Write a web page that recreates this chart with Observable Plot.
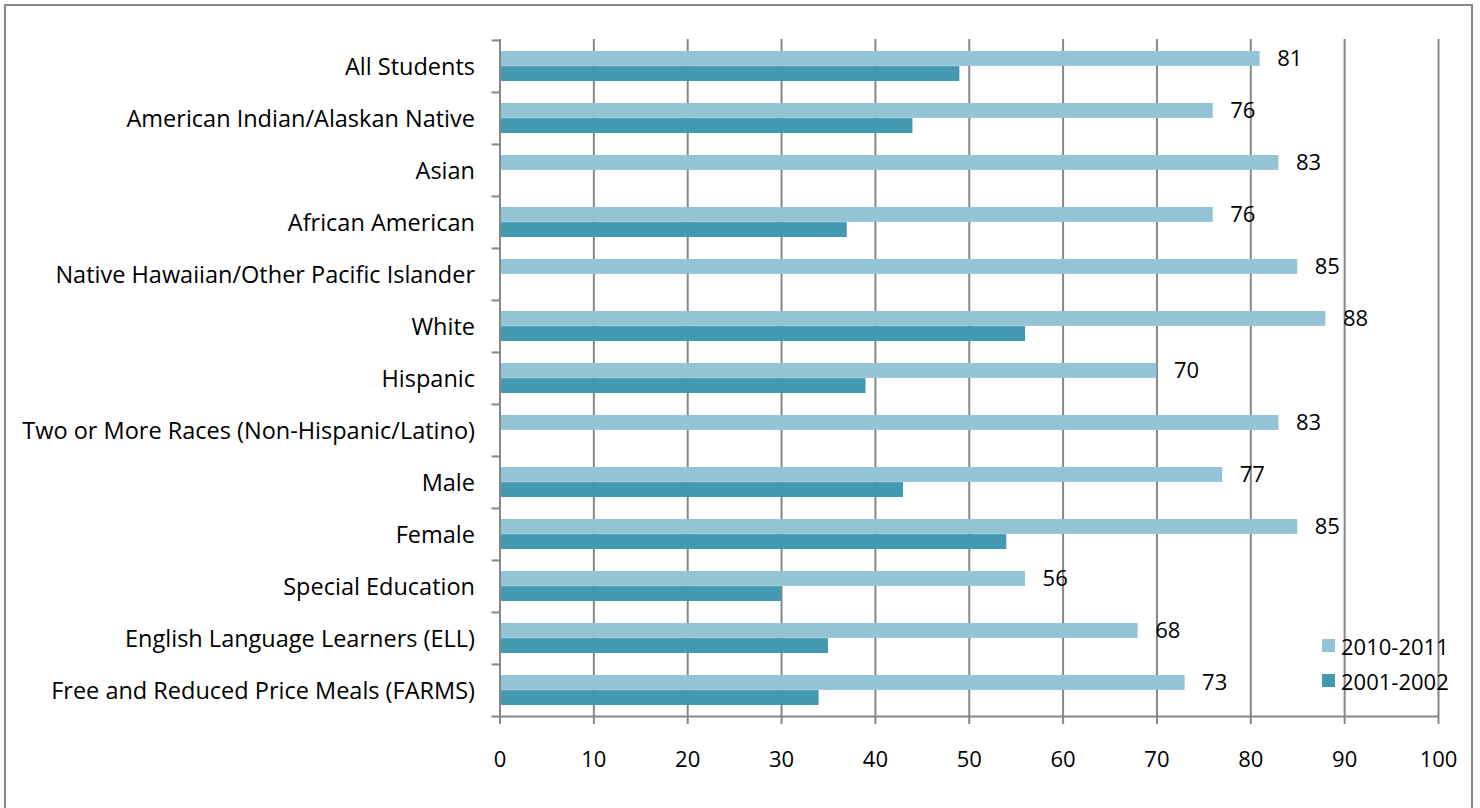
<!DOCTYPE html>
<html>
<head>
<meta charset="utf-8">
<script src="https://cdn.jsdelivr.net/npm/d3@7"></script>
<script src="https://cdn.jsdelivr.net/npm/@observablehq/plot@0.6"></script>
<style>
  html, body { margin: 0; padding: 0; background: #fff; }
  #wrap { position: relative; width: 1480px; height: 808px; overflow: hidden; font-family: "Open Sans", sans-serif; }
  #border { position: absolute; left: 4px; top: 4px; width: 1469px; height: 900px; border: 2px solid #888; box-sizing: border-box; }
  #legend { position: absolute; left: 1322px; top: 628px; font-size: 22px; color: #000; }
  #legend .row { display: flex; align-items: center; height: 35px; }
  #legend .sw { width: 13px; height: 13px; margin-right: 6px; }
</style>
</head>
<body>
<div id="wrap">
  <div id="border"></div>
  <div id="chart"></div>
  <div id="legend"></div>
</div>
<script>
const categories = [
  "All Students",
  "American Indian/Alaskan Native",
  "Asian",
  "African American",
  "Native Hawaiian/Other Pacific Islander",
  "White",
  "Hispanic",
  "Two or More Races (Non-Hispanic/Latino)",
  "Male",
  "Female",
  "Special Education",
  "English Language Learners (ELL)",
  "Free and Reduced Price Meals (FARMS)"
];
const values2010 = [81, 76, 83, 76, 85, 88, 70, 83, 77, 85, 56, 68, 73];
const values2001 = [49, 44, null, 37, null, 56, 39, null, 43, 54, 30, 35, 34];
const seriesNames = ["2010-2011", "2001-2002"];
const seriesColors = ["#93C3D5", "#4399B0"];
const xTicks = [0, 10, 20, 30, 40, 50, 60, 70, 80, 90, 100];

const rows2010 = categories.map((c, i) => ({category: c, value: values2010[i]}));
const rows2001 = categories.map((c, i) => ({category: c, value: values2001[i]})).filter(d => d.value != null);

const W = 1480, H = 808, mt = 39, mb = 91, ml = 499.5, mr = 42;
const padInner = 0.42;
const step = (H - mt - mb) / categories.length;
const bw = step * (1 - padInner);
const gray = "#878787";
const fs = 22;
const fsCat = 23.5;

const chart = Plot.plot({
  width: W,
  height: H,
  marginTop: mt,
  marginBottom: mb,
  marginLeft: ml,
  marginRight: mr,
  style: {fontFamily: "'Open Sans', sans-serif", fontSize: fs + "px", color: "#000", background: "transparent"},
  x: {domain: [0, 100], ticks: xTicks, label: null},
  y: {domain: categories, paddingInner: padInner, paddingOuter: padInner / 2, label: null},
  marks: [
    Plot.gridX(xTicks.filter(t => t > 0), {stroke: gray, strokeOpacity: 1, strokeWidth: 2}),
    Plot.barX(rows2010, {x: "value", y: "category", fill: seriesColors[0], insetBottom: bw / 2}),
    Plot.barX(rows2001, {x: "value", y: "category", fill: seriesColors[1], insetTop: bw / 2}),
    Plot.ruleX([0], {stroke: gray, strokeWidth: 2}),
    Plot.ruleY([categories[categories.length - 1]], {x1: 0, x2: 100, dy: step / 2, stroke: gray, strokeWidth: 2}),
    Plot.ruleY(categories, {x1: -0.85, x2: 0, dy: -step / 2, stroke: gray, strokeWidth: 2, clip: false}),
    Plot.ruleY([categories[categories.length - 1]], {x1: -0.85, x2: 0, dy: step / 2, stroke: gray, strokeWidth: 2}),
    Plot.axisX({ticks: xTicks, tickSize: 7, tickPadding: 27, stroke: gray, strokeWidth: 2, fontSize: fs, fill: "#000", label: null}),
    Plot.axisY({tickSize: 0, tickPadding: 25, fontSize: fsCat, fill: "#000", label: null, dy: 1}),
    Plot.text(rows2010, {x: "value", y: "category", text: d => String(d.value), dx: 17, dy: -bw / 4, textAnchor: "start", fontSize: fs, fill: "#000"})
  ]
});
document.getElementById("chart").appendChild(chart);

const legend = document.getElementById("legend");
seriesNames.forEach((name, i) => {
  const row = document.createElement("div");
  row.className = "row";
  const sw = document.createElement("div");
  sw.className = "sw";
  sw.style.background = seriesColors[i];
  const t = document.createElement("span");
  t.textContent = name;
  row.appendChild(sw);
  row.appendChild(t);
  legend.appendChild(row);
});
</script>
</body>
</html>
